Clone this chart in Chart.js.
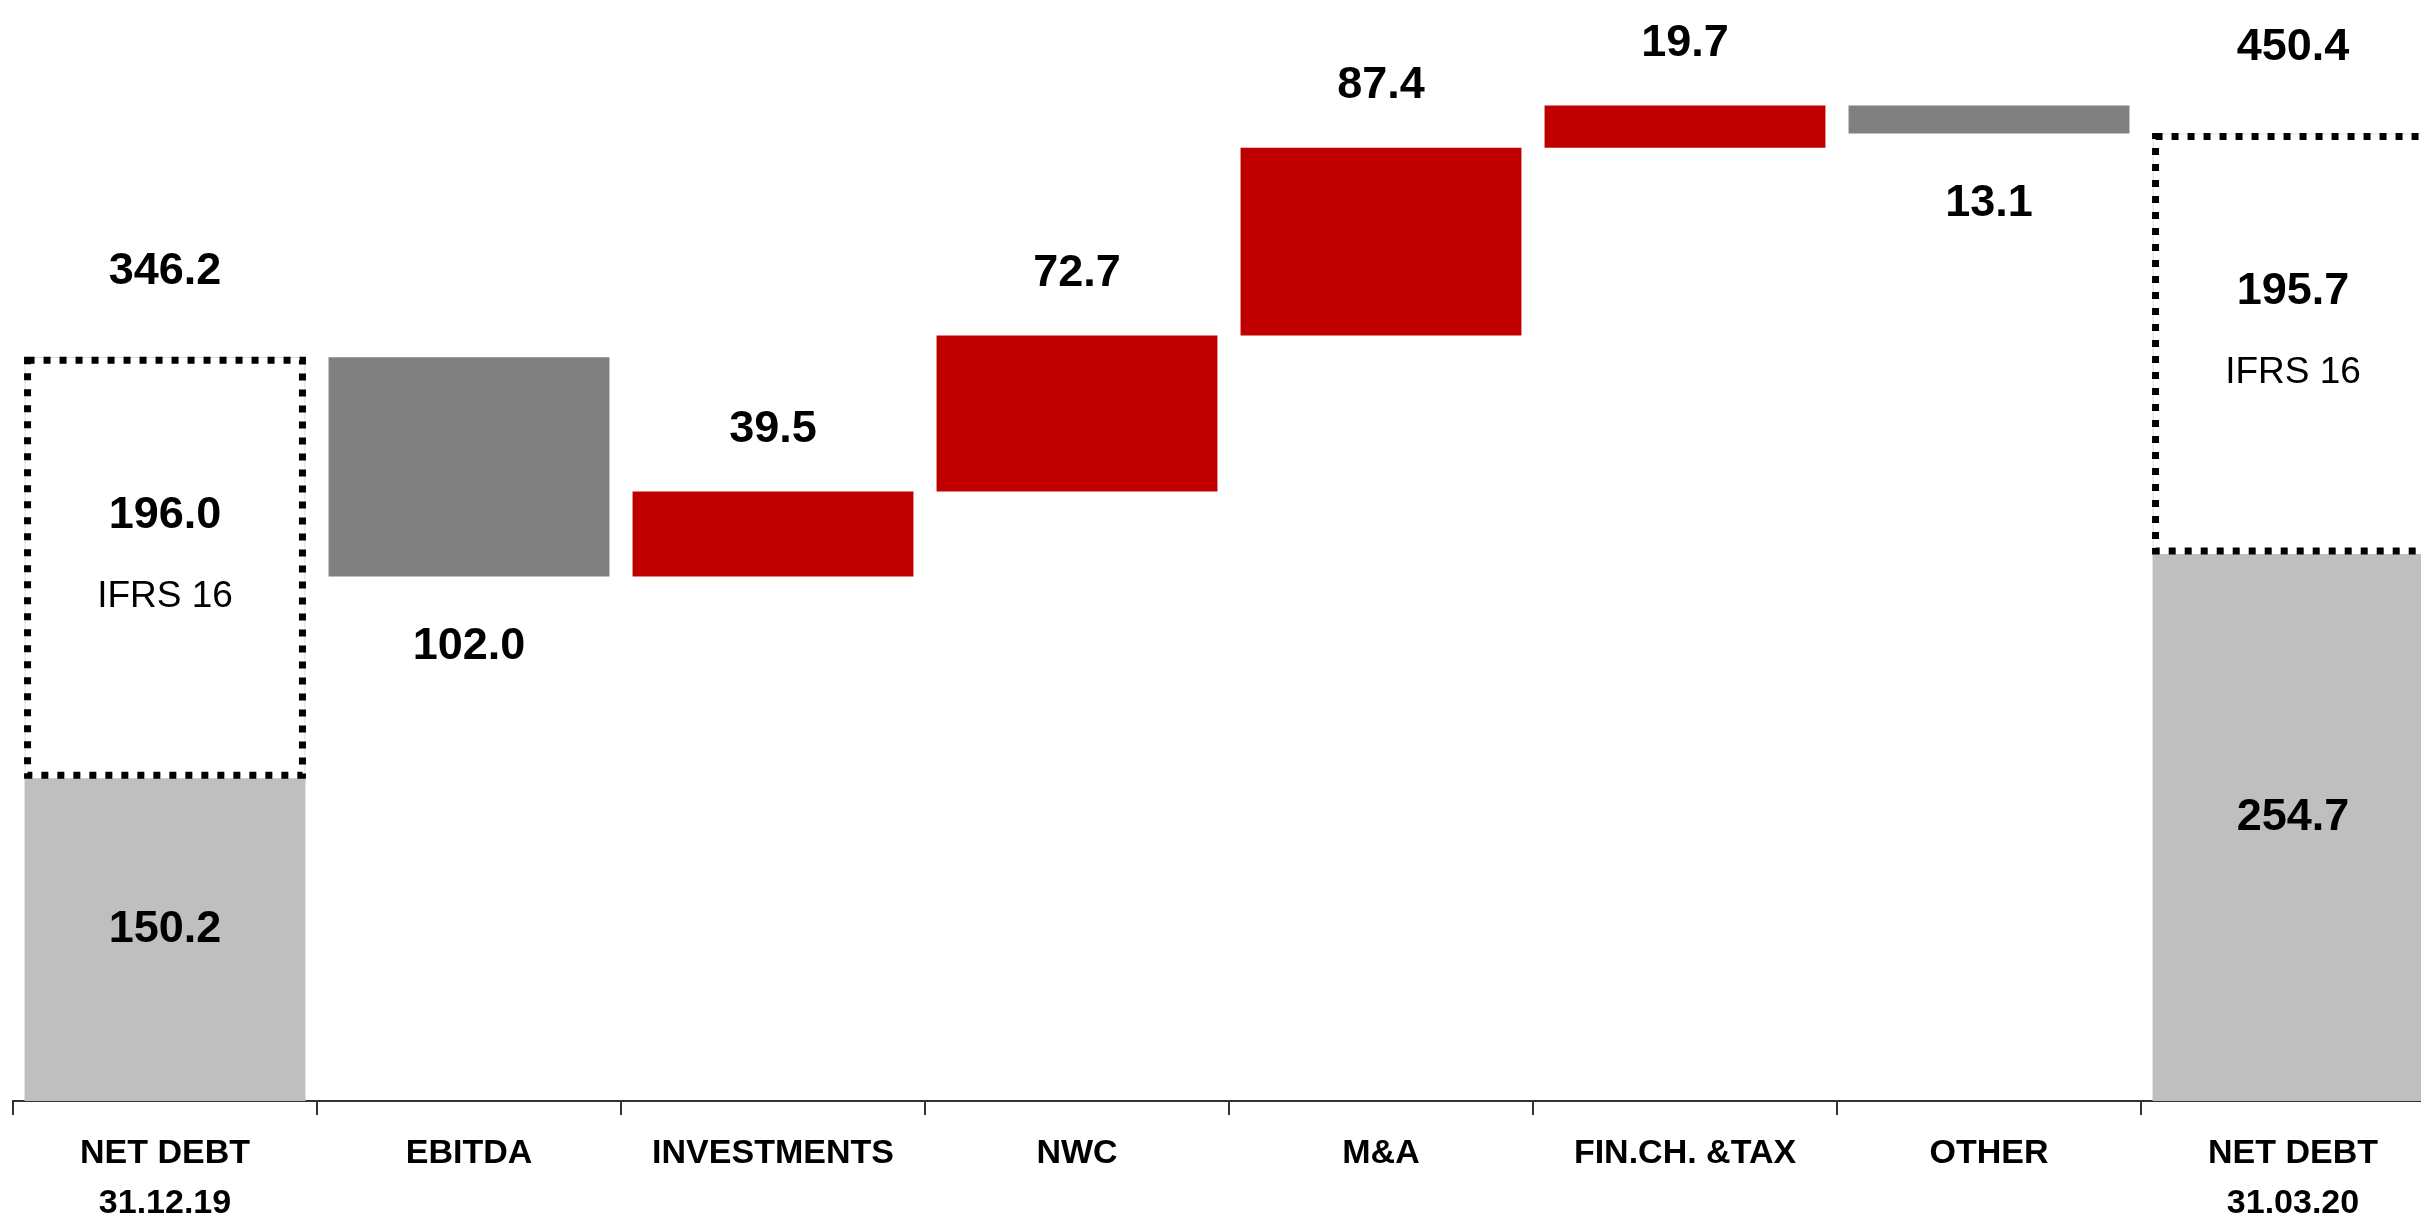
<!DOCTYPE html>
<html>
<head>
<meta charset="utf-8">
<script src="https://cdn.jsdelivr.net/npm/chart.js@4/dist/chart.umd.min.js"></script>
<style>
  html, body { margin: 0; padding: 0; background: #ffffff; overflow: hidden; }
  #wrap { width: 2460px; height: 1217px; }
</style>
</head>
<body>
<div id="wrap"><canvas id="c" width="2460" height="1217"></canvas></div>
<script>
// ---------- data ----------
const categories = [['NET DEBT', '31.12.19'], 'EBITDA', 'INVESTMENTS', 'NWC', 'M&A', 'FIN.CH. &TAX', 'OTHER', ['NET DEBT', '31.03.20']];
const openingNetDebt = 150.2;   // net debt excluding IFRS 16, 31.12.19
const openingIfrs16 = 196.0;    // IFRS 16 component, 31.12.19
const changeValues = [-102.0, 39.5, 72.7, 87.4, 19.7, -13.1]; // EBITDA .. OTHER (effect on net debt)
const closingNetDebt = 254.7;   // net debt excluding IFRS 16, 31.03.20
const closingIfrs16 = 195.7;    // IFRS 16 component, 31.03.20
const ifrsLabel = 'IFRS 16';
const yMax = 500;

// ---------- derived series ----------
const n = categories.length;
const openingTotal = openingNetDebt + openingIfrs16;
const closingTotal = closingNetDebt + closingIfrs16;

const baseData = new Array(n).fill(null);
baseData[0] = [0, openingNetDebt];
baseData[n - 1] = [0, closingNetDebt];

const ifrsData = new Array(n).fill(null);
ifrsData[0] = [openingNetDebt, openingTotal];
ifrsData[n - 1] = [closingNetDebt, closingTotal];

const moveData = new Array(n).fill(null);
const moveColors = new Array(n).fill('rgba(0,0,0,0)');
let running = openingTotal;
changeValues.forEach((v, i) => {
  moveData[i + 1] = [running, running + v];
  moveColors[i + 1] = v < 0 ? '#808080' : '#C00000';
  running += v;
});

const GRAY_LIGHT = '#BFBFBF';

// ---------- plugins ----------
const dottedBoxPlugin = {
  id: 'dottedBox',
  afterDatasetsDraw(chart) {
    const ctx = chart.ctx;
    const meta = chart.getDatasetMeta(1);
    meta.data.forEach((el, i) => {
      if (ifrsData[i] == null) return;
      const p = el.getProps(['x', 'y', 'base', 'width'], true);
      const left = p.x - p.width / 2, right = p.x + p.width / 2;
      const top = Math.min(p.y, p.base), bottom = Math.max(p.y, p.base);
      const ins = 3;
      ctx.save();
      ctx.strokeStyle = '#000000';
      ctx.lineWidth = 7;
      ctx.setLineDash([7, 9]);
      ctx.beginPath();
      ctx.moveTo(left + ins, top + ins);
      ctx.lineTo(right - ins, top + ins);
      ctx.lineTo(right - ins, bottom - ins);
      ctx.lineTo(left + ins, bottom - ins);
      ctx.closePath();
      ctx.stroke();
      ctx.restore();
    });
  }
};

const labelPlugin = {
  id: 'valueLabels',
  afterDatasetsDraw(chart) {
    const ctx = chart.ctx;
    ctx.save();
    ctx.fillStyle = '#000000';
    ctx.textAlign = 'center';
    ctx.textBaseline = 'middle';
    const bold = 'bold 45px "Liberation Sans", Arial, sans-serif';
    const reg = '37px "Liberation Sans", Arial, sans-serif';
    const geo = (dsIndex, i) => {
      const p = chart.getDatasetMeta(dsIndex).data[i].getProps(['x', 'y', 'base', 'width'], true);
      return { x: p.x, top: Math.min(p.y, p.base), bottom: Math.max(p.y, p.base) };
    };
    // totals
    [[0, openingNetDebt, openingIfrs16, openingTotal], [n - 1, closingNetDebt, closingIfrs16, closingTotal]].forEach(([i, nd, ifrs, tot]) => {
      const b = geo(0, i), box = geo(1, i);
      ctx.font = bold;
      ctx.fillText(tot.toFixed(1), box.x, box.top - 86);
      ctx.fillText(ifrs.toFixed(1), box.x, box.top + 158);
      ctx.fillText(nd.toFixed(1), b.x, (b.top + b.bottom) / 2 - 10);
      ctx.font = reg;
      ctx.fillText(ifrsLabel, box.x, box.top + 239);
    });
    // changes
    ctx.font = bold;
    changeValues.forEach((v, k) => {
      const g = geo(2, k + 1);
      const txt = Math.abs(v).toFixed(1);
      if (v >= 0) ctx.fillText(txt, g.x, g.top - 62);
      else ctx.fillText(txt, g.x, g.bottom + 70);
    });
    ctx.restore();
  }
};

// ---------- chart ----------
new Chart(document.getElementById('c'), {
  type: 'bar',
  data: {
    labels: categories,
    datasets: [
      { label: 'Net debt', data: baseData, backgroundColor: GRAY_LIGHT, borderWidth: 0, grouped: false, barPercentage: 0.924, categoryPercentage: 1.0 },
      { label: 'IFRS 16', data: ifrsData, backgroundColor: '#FFFFFF', borderColor: GRAY_LIGHT, borderWidth: 1, grouped: false, barPercentage: 0.924, categoryPercentage: 1.0 },
      { label: 'Changes', data: moveData, backgroundColor: moveColors, borderWidth: 0, grouped: false, barPercentage: 0.924, categoryPercentage: 1.0 }
    ]
  },
  options: {
    responsive: false,
    animation: false,
    devicePixelRatio: 1,
    layout: { padding: { top: 27, left: 13, right: 15, bottom: 0 } },
    plugins: { legend: { display: false }, tooltip: { enabled: false } },
    scales: {
      x: {
        grid: { display: true, drawOnChartArea: false, drawTicks: true, tickLength: 14, color: '#333333', lineWidth: 2, offset: true },
        border: { display: true, color: '#333333', width: 2 },
        ticks: {
          color: '#000000',
          padding: 14,
          maxRotation: 0,
          autoSkip: false,
          font: { family: '"Liberation Sans", Arial, sans-serif', weight: 'bold', size: 34, lineHeight: 1.47 }
        },
        afterFit(scale) { scale.height = 116; }
      },
      y: { display: false, min: 0, max: yMax }
    }
  },
  plugins: [dottedBoxPlugin, labelPlugin]
});
</script>
</body>
</html>
